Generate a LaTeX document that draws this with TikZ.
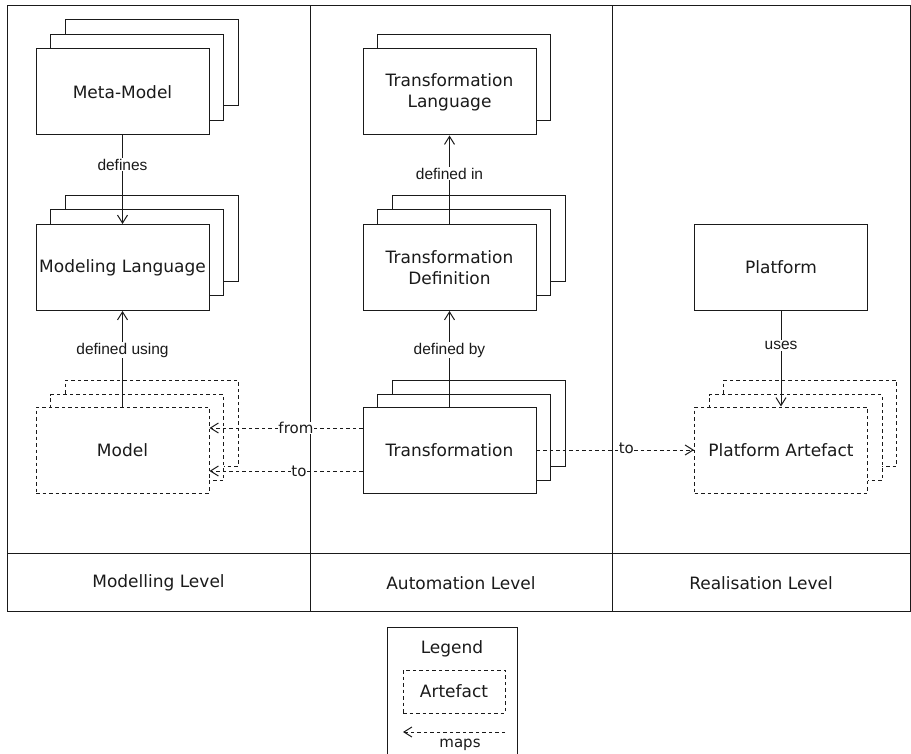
\documentclass[tikz,border=0pt]{standalone}
\usepackage{fontspec}
\setmainfont{DejaVu Sans}
\newfontfamily\libsans{Liberation Sans}
\usetikzlibrary{arrows.meta}
\definecolor{ink}{HTML}{1A1A1A}
\begin{document}
\begin{tikzpicture}[x=1pt,y=-1pt,line width=1pt,draw=ink,text=ink,
  box/.style={draw, fill=white, minimum width=173pt, minimum height=86pt, inner sep=0pt, align=center, font=\fontsize{17}{21}\selectfont},
  dsh/.style={dash pattern=on 3.5pt off 3pt},
  art/.style={box, dsh},
  tip/.style={-{Straight Barb[length=8pt,width=10pt,line width=1pt]}},
  elabel/.style={fill=white, inner sep=1pt, font=\libsans\fontsize{15.5}{18}\selectfont},
  mlabel/.style={fill=white, inner sep=0.5pt, font=\fontsize{15}{18}\selectfont},
  txt/.style={inner sep=0pt, font=\fontsize{17}{21}\selectfont}]
\useasboundingbox (0,0) rectangle (911,754);
% frame
\draw (7,6) rectangle (910,611);
\draw (310,6) -- (310,611);
\draw (612,6) -- (612,611);
\draw (7,553) -- (910,553);
\node[txt] (lv1) at (158.5,583) {Modelling Level};
\node[txt] (lv2) at (461,583) {Automation Level};
\node[txt] (lv3) at (761,583) {Realisation Level};
% Meta-Model
\node[box] (mm3) at (151.5,63) {};
\node[box] (mm2) at (137,77.5) {};
\node[box] (mm) at (122.5,92) {Meta-Model};
% Modeling Language
\node[box] (ml3) at (151.5,238.5) {};
\node[box] (ml2) at (137,253) {};
\node[box] (ml) at (122.5,267.5) {Modeling Language};
% Model
\node[art] (mo3) at (151.5,423) {};
\node[art] (mo2) at (137,437.5) {};
\node[art] (mo) at (122.5,450) {Model};
% Transformation Language
\node[box] (tl2) at (464,77.5) {};
\node[box] (tl) at (449.5,92) {Transformation\\Language};
% Transformation Definition
\node[box] (td3) at (478.5,238.5) {};
\node[box] (td2) at (464,253) {};
\node[box] (td) at (449.5,267.5) {Transformation\\Definition};
% Transformation
\node[box] (tr3) at (478.5,423) {};
\node[box] (tr2) at (464,437.5) {};
\node[box] (tr) at (449.5,450) {Transformation};
% Platform
\node[box] (pf) at (781,267.5) {Platform};
% Platform Artefact
\node[art] (pa3) at (810,423) {};
\node[art] (pa2) at (795.5,437.5) {};
\node[art] (pa) at (781,450) {Platform Artefact};
% connectors
\draw[tip] (mm.south) -- node[elabel,pos=0.33] {defines} (ml.north);
\draw[tip] (mo.north) -- node[elabel,pos=0.59] {defined using} (ml.south);
\draw[tip] (td.north) -- node[elabel,pos=0.57] {defined in} (tl.south);
\draw[tip] (tr.north) -- node[elabel,pos=0.59] {defined by} (td.south);
\draw[tip] (pf.south) -- node[elabel,pos=0.36] {uses} (pa.north);
\draw[tip,dsh] ([yshift=22pt]tr.west) -- node[mlabel,pos=0.435] {from} ([yshift=22pt]mo.east);
\draw[tip,dsh] ([yshift=-21pt]tr.west) -- node[mlabel,pos=0.415] {to} ([yshift=-21pt]mo.east);
\draw[tip,dsh] (tr.east) -- node[mlabel,pos=0.57,yshift=2pt] {to} (pa.west);
% legend
\draw (387,758) -- (387,627) -- (517,627) -- (517,758);
\node[txt] (lg) at (452,649) {Legend};
\node[art, minimum width=102pt, minimum height=43pt] (lga) at (454,691.5) {Artefact};
\coordinate (lgs) at (505,732);
\coordinate (lge) at (403,732);
\draw[tip,dsh] (lgs) -- (lge);
\node[mlabel, fill=none] (lgm) at (460,745) {maps};
\end{tikzpicture}
\end{document}
